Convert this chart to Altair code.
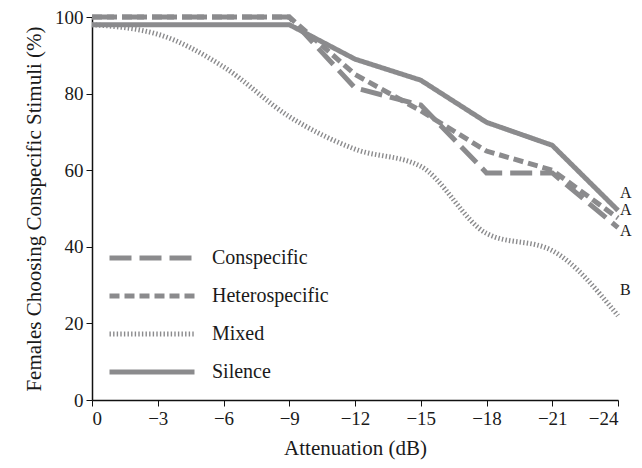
import altair as alt
import pandas as pd

attenuation = [0, -3, -6, -9, -12, -15, -18, -21, -24]
conspecific = [100, 100, 100, 100, 81.5, 77, 59.3, 59.3, 45]
heterospecific = [100, 100, 100, 100, 85, 75.5, 65, 60, 47.5]
mixed = [98, 95.5, 87, 74, 65.5, 61, 43.5, 39, 22]
silence = [98, 98, 98, 98, 89, 83.5, 72.5, 66.5, 49.5]

series_names = ["Conspecific", "Heterospecific", "Mixed", "Silence"]
letters = ["A", "A", "A", "B"]
letter_y = [54, 49.6, 44.2, 28.7]

rows = []
for name, vals in zip(series_names, [conspecific, heterospecific, mixed, silence]):
    for a, v in zip(attenuation, vals):
        rows.append({"att": a, "pct": v, "series": name})
df = pd.DataFrame(rows)
lab = pd.DataFrame({"att": [-24] * 4, "pct": letter_y, "txt": letters})

FONT = "Liberation Serif"
GRAY = "#8b8b8d"
TXT = "#1a1a1a"

x = alt.X("att:Q", scale=alt.Scale(domain=[0, -24]),
          axis=alt.Axis(values=attenuation, title="Attenuation (dB)"))
y = alt.Y("pct:Q", scale=alt.Scale(domain=[0, 100]),
          axis=alt.Axis(values=[0, 20, 40, 60, 80, 100],
                        title="Females Choosing Conspecific Stimuli (%)"))
dash = alt.StrokeDash("series:N", scale=alt.Scale(domain=series_names,
                      range=[[22, 8], [10, 5], [1.4, 2.2], [1, 0]]),
                      legend=alt.Legend(title=None, orient="none", legendX=15, legendY=231,
                                        padding=0, symbolType="stroke", symbolSize=7225,
                                        clipHeight=20,
                                        symbolStrokeColor=GRAY, symbolStrokeWidth=5,
                                        labelFont=FONT, labelFontSize=20, labelColor=TXT,
                                        labelOffset=15, rowPadding=18))
width_enc = alt.StrokeWidth("series:N", scale=alt.Scale(domain=series_names, range=[5, 5, 4, 5]),
                            legend=None)

lines = alt.Chart(df).transform_filter(alt.datum.series != "Mixed").mark_line(
    color=GRAY, strokeCap="butt", strokeJoin="miter").encode(x=x, y=y, strokeDash=dash, strokeWidth=width_enc)
mix = alt.Chart(df).transform_filter(alt.datum.series == "Mixed").mark_line(
    color=GRAY, strokeCap="butt", interpolate="monotone").encode(x=x, y=y, strokeDash=dash, strokeWidth=width_enc)
texts = alt.Chart(lab).mark_text(font=FONT, fontSize=16, align="left", dx=2, color=TXT).encode(
    x="att:Q", y="pct:Q", text="txt:N")

chart = alt.layer(lines, mix, texts).properties(
    width=526, height=383,
    autosize=alt.AutoSizeParams(type="none"),
    padding={"left": 84, "top": 9, "right": 16, "bottom": 60},
).configure_view(stroke=None).configure_axis(
    labelFont=FONT, labelFontSize=19, labelColor=TXT, titleFont=FONT, titleFontSize=21,
    titleFontWeight="normal", titleColor=TXT, grid=False, domainColor="#111", tickColor="#111",
    tickSize=6, labelPadding=3, domainWidth=1.5
).configure_axisY(titlePadding=10).configure_axisX(titlePadding=9)

chart.save("out.html", embed_options={"renderer": "svg", "actions": False})
